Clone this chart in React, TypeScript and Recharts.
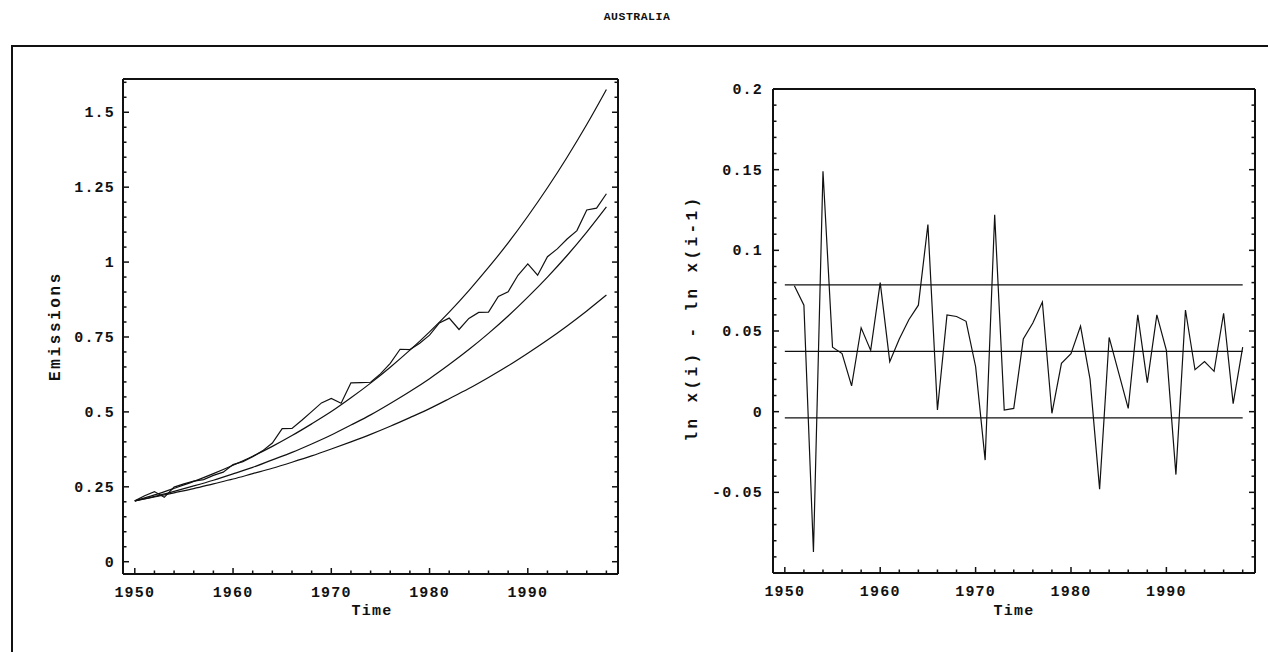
import React from "react";
import { LineChart, Line, XAxis, YAxis } from "recharts";

// ---- data ----
const years = [
  1950, 1951, 1952, 1953, 1954, 1955, 1956, 1957, 1958, 1959,
  1960, 1961, 1962, 1963, 1964, 1965, 1966, 1967, 1968, 1969,
  1970, 1971, 1972, 1973, 1974, 1975, 1976, 1977, 1978, 1979,
  1980, 1981, 1982, 1983, 1984, 1985, 1986, 1987, 1988, 1989,
  1990, 1991, 1992, 1993, 1994, 1995, 1996, 1997, 1998,
];
// actual emissions (jagged line)
const emissions = [
  0.203, 0.22, 0.234, 0.215, 0.249, 0.26, 0.269, 0.274, 0.288, 0.299,
  0.324, 0.334, 0.35, 0.37, 0.396, 0.444, 0.445, 0.472, 0.501, 0.53,
  0.545, 0.529, 0.597, 0.598, 0.599, 0.627, 0.662, 0.709, 0.708, 0.729,
  0.756, 0.797, 0.813, 0.775, 0.812, 0.832, 0.833, 0.885, 0.901, 0.956,
  0.994, 0.956, 1.018, 1.044, 1.077, 1.105, 1.174, 1.18, 1.228,
];

// smooth growth paths, read every 2 years
const pathYears = [
  1950, 1952, 1954, 1956, 1958, 1960, 1962, 1964, 1966, 1968, 1970, 1972, 1974,
  1976, 1978, 1980, 1982, 1984, 1986, 1988, 1990, 1992, 1994, 1996, 1998,
];
const upperPath = [
  0.203, 0.223, 0.245, 0.268, 0.294, 0.322, 0.352, 0.385, 0.421, 0.46, 0.501, 0.547, 0.596,
  0.649, 0.706, 0.767, 0.833, 0.905, 0.982, 1.064, 1.153, 1.248, 1.35, 1.459, 1.576,
];
const meanPath = [
  0.203, 0.218, 0.235, 0.253, 0.272, 0.293, 0.315, 0.34, 0.365, 0.393, 0.423, 0.456, 0.49,
  0.528, 0.568, 0.611, 0.658, 0.708, 0.762, 0.82, 0.883, 0.95, 1.022, 1.1, 1.184,
];
const lowerPath = [
  0.203, 0.216, 0.23, 0.244, 0.26, 0.276, 0.294, 0.312, 0.332, 0.353, 0.376, 0.4, 0.425,
  0.452, 0.481, 0.511, 0.544, 0.578, 0.615, 0.654, 0.696, 0.74, 0.787, 0.837, 0.89,
];

// ln x(i) - ln x(i-1)
const diffYears = [
  1951, 1952, 1953, 1954, 1955, 1956, 1957, 1958, 1959, 1960,
  1961, 1962, 1963, 1964, 1965, 1966, 1967, 1968, 1969, 1970,
  1971, 1972, 1973, 1974, 1975, 1976, 1977, 1978, 1979, 1980,
  1981, 1982, 1983, 1984, 1985, 1986, 1987, 1988, 1989, 1990,
  1991, 1992, 1993, 1994, 1995, 1996, 1997, 1998,
];
const logDiffs = [
  0.078, 0.066, -0.087, 0.149, 0.04, 0.036, 0.016, 0.052, 0.038, 0.08,
  0.031, 0.045, 0.057, 0.066, 0.116, 0.001, 0.06, 0.059, 0.056, 0.028,
  -0.03, 0.122, 0.001, 0.002, 0.045, 0.055, 0.068, -0.001, 0.03, 0.036,
  0.053, 0.02, -0.048, 0.046, 0.024, 0.002, 0.06, 0.018, 0.06, 0.038,
  -0.039, 0.063, 0.026, 0.031, 0.025, 0.061, 0.005, 0.04,
];
// mean and band lines
const bandYears = [1950, 1998];
const bandUpper = 0.0786;
const bandMean = 0.0374;
const bandLower = -0.0038;

// ---- ticks ----
const yearTicks = [
  1950, 1952, 1954, 1956, 1958, 1960, 1962, 1964, 1966, 1968, 1970, 1972, 1974,
  1976, 1978, 1980, 1982, 1984, 1986, 1988, 1990, 1992, 1994, 1996, 1998,
];
const yearLabels = ["1950", "1960", "1970", "1980", "1990"];
const emissionTicks = [
  0, 0.05, 0.1, 0.15, 0.2, 0.25, 0.3, 0.35, 0.4, 0.45, 0.5, 0.55, 0.6, 0.65, 0.7, 0.75,
  0.8, 0.85, 0.9, 0.95, 1, 1.05, 1.1, 1.15, 1.2, 1.25, 1.3, 1.35, 1.4, 1.45, 1.5, 1.55, 1.6,
];
const emissionLabels = ["0", "0.25", "0.5", "0.75", "1", "1.25", "1.5"];
const diffTicks = [
  -0.1, -0.09, -0.08, -0.07, -0.06, -0.05, -0.04, -0.03, -0.02, -0.01, 0,
  0.01, 0.02, 0.03, 0.04, 0.05, 0.06, 0.07, 0.08, 0.09, 0.1,
  0.11, 0.12, 0.13, 0.14, 0.15, 0.16, 0.17, 0.18, 0.19, 0.2,
];
const diffLabels = ["-0.05", "0", "0.05", "0.1", "0.15", "0.2"];

const emissionRows = years.map((year, i) => ({ year, value: emissions[i] }));
const upperRows = pathYears.map((year, i) => ({ year, value: upperPath[i] }));
const meanRows = pathYears.map((year, i) => ({ year, value: meanPath[i] }));
const lowerRows = pathYears.map((year, i) => ({ year, value: lowerPath[i] }));
const diffRows = diffYears.map((year, i) => ({ year, value: logDiffs[i] }));
const bandRows = (v: number) => bandYears.map((year) => ({ year, value: v }));

const FONT = "'Liberation Mono', 'Courier New', monospace";
const INK = "#111";
const textStyle: React.CSSProperties = {
  fontFamily: FONT,
  fontWeight: 700,
  fontSize: 15,
  letterSpacing: 1.2,
  fill: INK,
};

const findLabel = (labels: string[], v: number) =>
  labels.find((l) => Math.abs(Number(l) - v) < 1e-6);

// inward Mathematica-style frame ticks, label only when asked
function frameTick(side: "bottom" | "top" | "left" | "right", labels: string[], showText: boolean, gap = 8) {
  return (props: any) => {
    const { x, y, payload } = props;
    const label = findLabel(labels, payload.value);
    const len = label ? 6 : 3.5;
    let x2 = x, y2 = y;
    if (side === "bottom") y2 = y - len;
    if (side === "top") y2 = y + len;
    if (side === "left") x2 = x + len;
    if (side === "right") x2 = x - len;
    return (
      <g>
        <line x1={x} y1={y} x2={x2} y2={y2} stroke={INK} strokeWidth={1.5} />
        {showText && label && side === "bottom" && (
          <text x={x} y={y + 23} textAnchor="middle" style={textStyle}>{label}</text>
        )}
        {showText && label && side === "left" && (
          <text x={x - gap} y={y + 5} textAnchor="end" style={textStyle}>{label}</text>
        )}
      </g>
    );
  };
}

const frameLine = { stroke: INK, strokeWidth: 2 };

const abs = (left: number, top: number): React.CSSProperties => ({
  position: "absolute",
  left,
  top,
  transform: "translate(-50%, -50%)",
  fontFamily: FONT,
  fontWeight: 700,
  fontSize: 15,
  letterSpacing: 1.2,
  color: INK,
  whiteSpace: "nowrap",
  lineHeight: 1,
});

export default function App() {
  return (
    <div style={{ position: "absolute", left: 0, top: 0, width: 1268, height: 652, background: "#fff", overflow: "hidden" }}>
      <div style={{ ...abs(637, 17), fontSize: 11.5, letterSpacing: 0.5 }}>AUSTRALIA</div>
      {/* outer frame */}
      <div style={{ position: "absolute", left: 11, top: 45, width: 1300, height: 700, borderTop: `2px solid ${INK}`, borderLeft: `2px solid ${INK}` }} />

      <div style={{ position: "absolute", left: 0, top: 0 }}>
        <LineChart width={640} height={652} margin={{ top: 78, right: 21, bottom: 77, left: 122 }}>
          <XAxis dataKey="year" type="number" domain={[1948.8, 1999.18]} allowDataOverflow ticks={yearTicks}
            interval={0} height={1} tickSize={0} tickMargin={0} tickLine={false} axisLine={frameLine}
            tick={frameTick("bottom", yearLabels, true)} />
          <XAxis xAxisId="top" orientation="top" type="number" domain={[1948.8, 1999.18]} allowDataOverflow ticks={yearTicks}
            interval={0} height={1} tickSize={0} tickMargin={0} tickLine={false} axisLine={frameLine}
            tick={frameTick("top", yearLabels, false)} />
          <YAxis type="number" domain={[-0.041, 1.611]} allowDataOverflow ticks={emissionTicks}
            interval={0} width={1} tickSize={0} tickMargin={0} tickLine={false} axisLine={frameLine}
            tick={frameTick("left", emissionLabels, true, 8)} />
          <YAxis yAxisId="right" orientation="right" type="number" domain={[-0.041, 1.611]} allowDataOverflow ticks={emissionTicks}
            interval={0} width={1} tickSize={0} tickMargin={0} tickLine={false} axisLine={frameLine}
            tick={frameTick("right", emissionLabels, false)} />
          <Line data={upperRows} dataKey="value" type="monotone" stroke={INK} strokeWidth={1.2} dot={false} isAnimationActive={false} />
          <Line data={meanRows} dataKey="value" type="monotone" stroke={INK} strokeWidth={1.2} dot={false} isAnimationActive={false} />
          <Line data={lowerRows} dataKey="value" type="monotone" stroke={INK} strokeWidth={1.2} dot={false} isAnimationActive={false} />
          <Line data={emissionRows} dataKey="value" type="linear" stroke={INK} strokeWidth={1.2} dot={false} isAnimationActive={false} />
        </LineChart>
      </div>

      <div style={{ position: "absolute", left: 640, top: 0 }}>
        <LineChart width={628} height={652} margin={{ top: 88, right: 12, bottom: 78, left: 132 }}>
          <XAxis dataKey="year" type="number" domain={[1948.76, 1999.29]} allowDataOverflow ticks={yearTicks}
            interval={0} height={1} tickSize={0} tickMargin={0} tickLine={false} axisLine={frameLine}
            tick={frameTick("bottom", yearLabels, true)} />
          <XAxis xAxisId="top" orientation="top" type="number" domain={[1948.76, 1999.29]} allowDataOverflow ticks={yearTicks}
            interval={0} height={1} tickSize={0} tickMargin={0} tickLine={false} axisLine={frameLine}
            tick={frameTick("top", yearLabels, false)} />
          <YAxis type="number" domain={[-0.1, 0.2]} allowDataOverflow ticks={diffTicks}
            interval={0} width={1} tickSize={0} tickMargin={0} tickLine={false} axisLine={frameLine}
            tick={frameTick("left", diffLabels, true, 10)} />
          <YAxis yAxisId="right" orientation="right" type="number" domain={[-0.1, 0.2]} allowDataOverflow ticks={diffTicks}
            interval={0} width={1} tickSize={0} tickMargin={0} tickLine={false} axisLine={frameLine}
            tick={frameTick("right", diffLabels, false)} />
          <Line data={bandRows(bandUpper)} dataKey="value" type="linear" stroke={INK} strokeWidth={1.3} dot={false} isAnimationActive={false} />
          <Line data={bandRows(bandMean)} dataKey="value" type="linear" stroke={INK} strokeWidth={1.3} dot={false} isAnimationActive={false} />
          <Line data={bandRows(bandLower)} dataKey="value" type="linear" stroke={INK} strokeWidth={1.3} dot={false} isAnimationActive={false} />
          <Line data={diffRows} dataKey="value" type="linear" stroke={INK} strokeWidth={1.2} dot={false} isAnimationActive={false} />
        </LineChart>
      </div>

      <div style={abs(372, 611)}>Time</div>
      <div style={abs(1014, 611)}>Time</div>
      <div style={{ ...abs(56, 326), transform: "translate(-50%, -50%) rotate(-90deg)", fontSize: 16, letterSpacing: 2.6 }}>Emissions</div>
      <div style={{ ...abs(693, 318), transform: "translate(-50%, -50%) rotate(-90deg)", fontSize: 16, letterSpacing: 3.4 }}>ln x(i) - ln x(i-1)</div>
    </div>
  );
}
